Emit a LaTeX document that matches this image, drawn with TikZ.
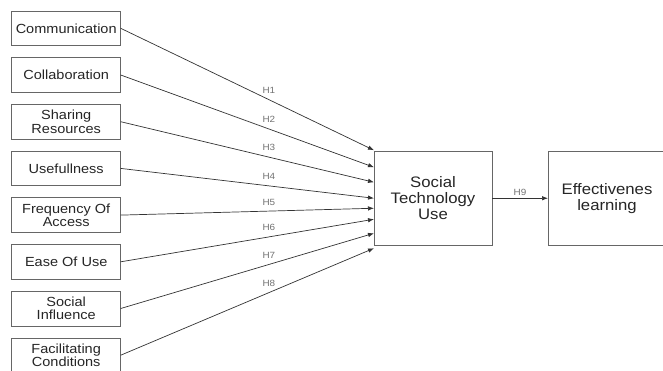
\documentclass[tikz,border=0pt]{standalone}
\usepackage{fontspec}
\setmainfont[FakeStretch=1.1]{Liberation Sans}
\usetikzlibrary{positioning,arrows.meta}

\begin{document}
\begin{tikzpicture}[x=1pt, y=-1pt, node distance = {12pt},
	factor/.style = {draw=black!60, line width=0.7pt, outer sep=0pt, minimum width=109pt, minimum height=34.7pt, align=center, text=black!85, font=\fontsize{13.2}{13.4}\selectfont},
	construct/.style = {draw=black!60, line width=0.7pt, outer sep=0pt, minimum width=118pt, minimum height=94.5pt, align=center, text=black!85, font=\fontsize{15.2}{16}\selectfont},
	hyp/.style = {draw=black!80, line width=0.7pt, -{Latex[length=6pt,width=4.5pt]}},
	hlabel/.style = {text=black!55, font=\fontsize{9}{10}\selectfont}]
	\clip (0,0) rectangle (663,370);
	\fill[white] (0,0) rectangle (663,370);
	\node[factor] (f1) at (66.2,28.3) {Communication};
	\node[factor] (f2) [below=of f1] {Collaboration};
	\node[factor] (f3) [below=of f2] {Sharing\\Resources};
	\node[factor] (f4) [below=of f3] {Usefullness};
	\node[factor] (f5) [below=of f4] {Frequency Of\\Access};
	\node[factor] (f6) [below=of f5] {Ease Of Use};
	\node[factor] (f7) [below=of f6] {Social\\Influence};
	\node[factor] (f8) [below=of f7] {Facilitating\\Conditions};
	\node[construct] (st) at (433,198.25) {Social\\Technology\\Use};
	\node[construct] (el) [right=56pt of st] {Effectivenes\\learning};
	\draw[hyp] (f1.east) -- ([yshift=48pt]st.west) node[hlabel, pos=0.585, yshift=9.5pt] {H1};
	\draw[hyp] (f2.east) -- ([yshift=31pt]st.west) node[hlabel, pos=0.585, yshift=9.5pt] {H2};
	\draw[hyp] (f3.east) -- ([yshift=16pt]st.west) node[hlabel, pos=0.585, yshift=9.5pt] {H3};
	\draw[hyp] (f4.east) -- ([yshift=0pt]st.west) node[hlabel, pos=0.585, yshift=9.5pt] {H4};
	\draw[hyp] (f5.east) -- ([yshift=-10pt]st.west) node[hlabel, pos=0.585, yshift=9pt] {H5};
	\draw[hyp] (f6.east) -- ([yshift=-21pt]st.west) node[hlabel, pos=0.585, yshift=9.5pt] {H6};
	\draw[hyp] (f7.east) -- ([yshift=-35pt]st.west) node[hlabel, pos=0.585, yshift=9.5pt] {H7};
	\draw[hyp] (f8.east) -- ([yshift=-50pt]st.west) node[hlabel, pos=0.585, yshift=9.5pt] {H8};
	\draw[hyp] (st) -- (el) node[hlabel, midway, yshift=5.5pt] {H9};
\end{tikzpicture}
\end{document}
